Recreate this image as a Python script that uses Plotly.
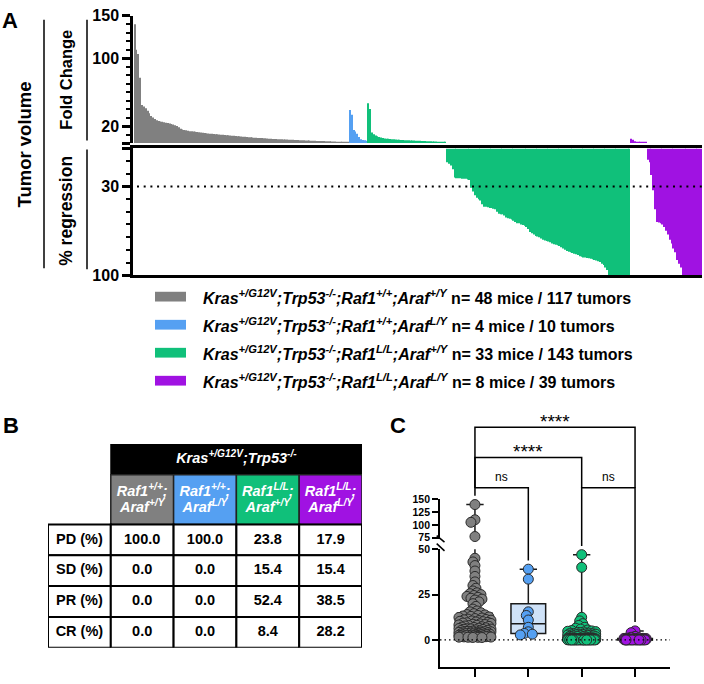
import numpy as np
import plotly.graph_objects as go

W, H = 704, 684
FONT = "Liberation Sans"

# ------------------------------------------------------------------ DATA
gray_fold = [140, 110, 105, 77, 45, 43, 41, 38, 35, 32,
             30, 28.5, 27, 26, 25.5, 25, 24.5, 24, 23.5, 23,
             22.5, 22, 21, 20, 18.5, 17, 16, 15.5, 15, 14.5,
             14, 13.8, 13.5, 13.2, 13, 12.7, 12.4, 12.1, 11.8, 11.5,
             11.3, 11.1, 10.9, 10.7, 10.5, 10.3, 10.1, 9.9, 9.7, 9.5,
             9.3, 9.1, 8.9, 8.7, 8.5, 8.3, 8.1, 7.9, 7.7, 7.5,
             7.3, 7.1, 6.9, 6.7, 6.5, 6.3, 6.2, 6.1, 6.0, 5.9,
             5.8, 5.6, 5.4, 5.2, 5.0, 4.9, 4.8, 4.7, 4.6, 4.5,
             4.4, 4.3, 4.2, 4.1, 4.0, 3.9, 3.8, 3.7, 3.6, 3.5,
             3.4, 3.3, 3.2, 3.1, 3.0, 2.9, 2.8, 2.7, 2.6, 2.5,
             2.45, 2.4, 2.35, 2.3, 2.2, 2.1, 2.0, 1.9, 1.8, 1.7,
             1.65, 1.6, 1.55, 1.5, 1.45, 1.4, 1.35]
blue_fold = [39, 33.5, 15.5, 13.5, 11, 7, 4.5, 3.6, 3.2, 2.8]
green_fold = [47, 40, 12.5, 10.5, 9, 8, 7, 6.5, 6, 5.5,
              5.2, 5.0, 4.8, 4.6, 4.4, 4.2, 4.0, 3.8, 3.6, 3.5,
              3.4, 3.3, 3.2, 3.1, 3.0, 2.9, 2.8, 2.7, 2.6, 2.5,
              2.4, 2.3, 2.2, 2.1, 2.0, 1.9, 1.8, 1.7, 1.6, 1.5,
              1.3, 1.1, 0.9]
green_regr = [11, 12, 13.5, 16.5, 23, 23.5, 23.5, 23.5, 24, 24, 24, 24.5, 25,
              31, 34, 37, 39, 40, 41, 44, 46, 46, 46.5,
              47, 47, 47.5, 48, 50, 51.5, 52, 52, 53, 54.5,
              55, 55.5, 56, 57, 58, 59, 59, 60, 60.5, 61,
              62, 63.5, 66, 67, 68, 69, 69.5, 70, 71, 72,
              72.6, 73, 73.5, 74, 75, 75.5, 76, 76.4, 77, 78,
              79, 80, 81, 81.5, 82, 82.5, 83, 83.5, 84, 85,
              85.5, 86, 86, 86.5, 86.7, 87, 87.5, 88, 88.5, 89,
              89.5, 91, 92, 94, 96,
              100, 100, 100, 100, 100, 100, 100, 100, 100, 100, 100, 100]
purple_fold = [5, 4, 2, 1.5, 1.2, 1.0, 0.8, 0.6, 0.4]
purple_regr = [9, 11, 21,
               33, 48, 58, 58.5, 59, 60, 62, 65, 68, 72, 75, 79, 82, 88, 91, 94,
               100, 100, 100, 100, 100, 100, 100, 100, 100, 100, 100]

raf1_geno = ["+/+", "+/+", "L/L", "L/L"]
araf_geno = ["+/Y", "L/Y", "+/Y", "L/Y"]
n_text = ["n= 48 mice / 117 tumors", "n= 4 mice / 10 tumors",
          "n= 33 mice / 143 tumors", "n= 8 mice / 39 tumors"]

table_rows = ["PD (%)", "SD (%)", "PR (%)", "CR (%)"]
table_vals = [[100.0, 100.0, 23.8, 17.9],
              [0.0, 0.0, 15.4, 15.4],
              [0.0, 0.0, 52.4, 38.5],
              [0.0, 0.0, 8.4, 28.2]]

comparisons = [(0, 3, "****"), (0, 2, "****"), (0, 1, "ns"), (2, 3, "ns")]

# ------------------------------------------------------------------ STYLE
colors = ["#808080", "#55a0f2", "#10c07a", "#a012e2"]
box_fill = ["#d6d6d6", "#cfe2f8", "#c8f0dc", "#ead0f8"]


def X(p):
    return p / W


def Y(p):
    return 1 - p / H


fig = go.Figure()

# ------------------------------------------------------------------ PANEL A
A_L, A_R = 133, 702
TOP_T, TOP_B = 8, 138.5
BOT_T, BOT_B = 144, 274
A_XRANGE = [-0.9, 308.5]

fold_sets = [gray_fold, blue_fold, green_fold, purple_fold]
regr_sets = [[], [], green_regr, purple_regr]
pos = 0
for g in range(4):
    f, r = fold_sets[g], regr_sets[g]
    xf = list(range(pos, pos + len(f)))
    pos += len(f)
    xr = list(range(pos, pos + len(r)))
    pos += len(r)
    fig.add_trace(go.Bar(x=xf, y=f, marker=dict(color=colors[g], line=dict(width=0)),
                         xaxis="x", yaxis="y", hoverinfo="skip"))
    if r:
        fig.add_trace(go.Bar(x=xr, y=r, marker=dict(color=colors[g], line=dict(width=0)),
                             xaxis="x2", yaxis="y2", hoverinfo="skip"))

# ------------------------------------------------------------------ PANEL B (table)
ROW_EDGES = [0, 1.0, 2.62, 3.62, 4.62, 5.62, 6.62]
tx, ty, tt, tc = [], [], [], []
tx.append(3.0); ty.append(0.5)
tt.append("<b><i>Kras</i><sup><i>+/G12V</i></sup><i>;Trp53</i><sup><i>-/-</i></sup></b>")
tc.append("white")
for c in range(4):
    tx += [c + 1.5, c + 1.5]
    ty += [1.58, 2.09]
    tt += [f"<b><i>Raf1</i><sup><i>{raf1_geno[c]}</i></sup><i>;</i></b>",
           f"<b><i>Araf</i><sup><i>{araf_geno[c]}</i></sup></b>"]
    tc += ["white", "white"]
for r in range(4):
    yc = (ROW_EDGES[r + 2] + ROW_EDGES[r + 3]) / 2
    tx.append(0.5); ty.append(yc); tt.append(f"<b>{table_rows[r]}</b>"); tc.append("black")
    for c in range(4):
        tx.append(c + 1.5); ty.append(yc)
        tt.append(f"<b>{table_vals[r][c]:.1f}</b>"); tc.append("black")
fig.add_trace(go.Scatter(x=tx, y=ty, text=tt, mode="text", textposition="middle center",
                         textfont=dict(family=FONT, size=14.5, color=tc),
                         xaxis="x3", yaxis="y3", hoverinfo="skip", cliponaxis=False))

shapes = []
shapes.append(dict(type="rect", xref="x3", yref="y3", x0=1, x1=5, y0=0, y1=1,
                   fillcolor="black", line=dict(color="black", width=1), layer="below"))
for c in range(4):
    shapes.append(dict(type="rect", xref="x3", yref="y3", x0=c + 1, x1=c + 2,
                       y0=ROW_EDGES[1], y1=ROW_EDGES[2], fillcolor=colors[c],
                       line=dict(color="#222", width=1.5), layer="below"))
for r in range(4):
    for c in range(5):
        shapes.append(dict(type="rect", xref="x3", yref="y3", x0=c, x1=c + 1,
                           y0=ROW_EDGES[r + 2], y1=ROW_EDGES[r + 3], fillcolor="white",
                           line=dict(color="black", width=2), layer="below"))

# ------------------------------------------------------------------ PANEL C
C_L, C_R = 440, 670
C_XRANGE = [-0.655, 3.655]
B4_T, B4_B = 555, 676
Y4_RANGE = [-15, 50]
T5_T, T5_B = 504, 544.6
Y5_RANGE = [72, 150]
bot_scale = (B4_B - B4_T) / (Y4_RANGE[1] - Y4_RANGE[0])
top_scale = (T5_B - T5_T) / (Y5_RANGE[1] - Y5_RANGE[0])
x_scale = (C_R - C_L) / (C_XRANGE[1] - C_XRANGE[0])


def c_ypix(v):
    if v <= Y4_RANGE[1]:
        return B4_B - (v - Y4_RANGE[0]) * bot_scale
    return T5_B - (v - Y5_RANGE[0]) * top_scale


def swarm(vals, maxw, d=10.0, accept=0.4):
    vals = np.asarray(vals, float)
    ypx = np.array([c_ypix(v) for v in vals])
    order = np.argsort(-vals, kind="stable")
    cands = np.arange(-maxw, maxw + 0.5, 1.0)
    cands = cands[np.argsort(np.abs(cands), kind="stable")]
    px_l, py_l = [], []
    off = np.zeros(len(vals))
    for i in order:
        best = 0.0
        if px_l:
            pxa, pya = np.array(px_l), np.array(py_l)
            near = np.abs(pya - ypx[i]) < d
            if near.any():
                dist = np.sqrt((cands[:, None] - pxa[near][None, :]) ** 2 +
                               (ypx[i] - pya[near][None, :]) ** 2).min(axis=1)
                ok = np.where(dist >= d * accept)[0]
                best = cands[ok[0]] if len(ok) else cands[np.argmax(dist)]
        off[i] = best
        px_l.append(best)
        py_l.append(ypx[i])
    return off


c_vals = []
for g in range(4):
    v = list(fold_sets[g]) + [round(1 - r / 100.0, 3) for r in regr_sets[g]]
    c_vals.append(np.array(v, float))

spread = [16, 16, 14, 11]
for g in range(4):
    v = c_vals[g]
    q1, med, q3 = np.percentile(v, [25, 50, 75], method="weibull")
    for ya in ["y4", "y5"]:
        fig.add_trace(go.Box(x=[g], q1=[q1], median=[med], q3=[q3],
                             lowerfence=[v.min()], upperfence=[v.max()],
                             orientation="v", width=0.65, whiskerwidth=0.5,
                             fillcolor=box_fill[g], line=dict(color="#1a1a1a", width=1.5),
                             boxpoints=False, xaxis="x4", yaxis=ya, hoverinfo="skip"))
for g in range(4):
    v = c_vals[g]
    off = swarm(v, spread[g])
    xs = g + off / x_scale
    lo = v <= Y4_RANGE[1]
    mk = dict(size=10, color=colors[g], line=dict(color="#2a2a2a", width=1))
    fig.add_trace(go.Scatter(x=xs[lo], y=v[lo], mode="markers", marker=mk, cliponaxis=False,
                             xaxis="x4", yaxis="y4", hoverinfo="skip"))
    if (~lo).any():
        fig.add_trace(go.Scatter(x=xs[~lo], y=v[~lo], mode="markers", marker=mk, cliponaxis=False,
                                 xaxis="x4", yaxis="y5", hoverinfo="skip"))

# brackets
bracket_y = [430, 461, 492, 492]
leg_end = [c_ypix(c_vals[g].max()) - 9 for g in range(4)]
annots = []
for k, (a, b, lab) in enumerate(comparisons):
    yb = bracket_y[k]
    if lab == "ns":
        ya, yb2 = leg_end[a], leg_end[b]
    else:
        ya, yb2 = 492, 492
    shapes.append(dict(type="path", xref="x4", yref="paper",
                       path=f"M {a},{Y(ya)} L {a},{Y(yb)} L {b},{Y(yb)} L {b},{Y(yb2)}",
                       line=dict(color="black", width=1.5)))
    annots.append(dict(x=(a + b) / 2, y=Y(yb - (6 if lab != "ns" else 11)), xref="x4", yref="paper",
                       text=lab, showarrow=False, xanchor="center", yanchor="middle",
                       font=dict(family=FONT, size=19 if lab != "ns" else 12, color="black")))

# zero dotted line (panel C) and 30% line (panel A)
shapes.append(dict(type="line", xref="x4 domain", yref="y4", x0=0, x1=1, y0=0, y1=0,
                   line=dict(color="black", width=1.2, dash="1.5px,3px")))
shapes.append(dict(type="line", xref="x2 domain", yref="y2", x0=0.007, x1=1, y0=30, y1=30,
                   line=dict(color="black", width=2, dash="2px,4.7px")))
# axis-break marks
for yy in [(541, 547.7), (549.3, 556.7)]:
    shapes.append(dict(type="line", xref="paper", yref="paper", x0=X(436.7), x1=X(444.5),
                       y0=Y(yy[0]), y1=Y(yy[1]), line=dict(color="black", width=1.5)))

# panel A left bracket lines
for (x, y0, y1) in [(44, 12, 267), (87, 12, 136), (87, 145, 268)]:
    shapes.append(dict(type="line", xref="paper", yref="paper", x0=X(x), x1=X(x),
                       y0=Y(y0), y1=Y(y1), line=dict(color="black", width=1.5)))

# legend
rows_y = [296, 324.8, 353.5, 382.2]
for g in range(4):
    shapes.append(dict(type="rect", xref="paper", yref="paper", x0=X(155), x1=X(186),
                       y0=Y(rows_y[g] + 5), y1=Y(rows_y[g] - 5), fillcolor=colors[g],
                       line=dict(width=0)))
    txt = ("<b><i>Kras</i><sup><i>+/G12V</i></sup><i>;Trp53</i><sup><i>-/-</i></sup>"
           f"<i>;Raf1</i><sup><i>{raf1_geno[g]}</i></sup><i>;Araf</i><sup><i>{araf_geno[g]}</i></sup>"
           f" {n_text[g]}</b>")
    annots.append(dict(x=X(201), y=Y(rows_y[g]), xref="paper", yref="paper", text=txt,
                       showarrow=False, xanchor="left", yanchor="middle",
                       font=dict(family=FONT, size=16, color="black")))

# titles / panel letters
for (txt, x, y, s) in [("Tumor volume", 25, 140, 18.5), ("Fold Change", 66.5, 74, 16.5),
                       ("% regression", 66, 208, 17.5)]:
    annots.append(dict(x=X(x), y=Y(y), xref="paper", yref="paper", text=f"<b>{txt}</b>",
                       textangle=-90, showarrow=False, xanchor="center", yanchor="middle",
                       font=dict(family=FONT, size=s, color="black")))
for (txt, x, y) in [("A", 10, 12.5), ("B", 10.5, 428), ("C", 398, 428)]:
    annots.append(dict(x=X(x), y=Y(y), xref="paper", yref="paper", text=f"<b>{txt}</b>",
                       showarrow=False, xanchor="center", yanchor="middle",
                       font=dict(family=FONT, size=22, color="black")))

tickfontA = dict(family=FONT, size=16, color="black", weight="bold")
tickfontC = dict(family=FONT, size=10.5, color="black", weight="bold")
minorA = dict(dtick=10, tick0=0, ticks="outside", ticklen=4, tickwidth=1.5, tickcolor="black")

fig.update_layout(
    width=W, height=H, margin=dict(l=0, r=0, t=0, b=0),
    paper_bgcolor="white", plot_bgcolor="white", showlegend=False,
    barmode="overlay", bargap=0.45,
    xaxis=dict(domain=[X(A_L), X(A_R)], range=A_XRANGE, visible=False, anchor="y"),
    yaxis=dict(domain=[Y(TOP_B), Y(TOP_T)], range=[0, 150], anchor="x", showline=True,
               linecolor="black", linewidth=2.5, ticks="outside", ticklen=8, tickwidth=2.5,
               tickcolor="black", tickmode="array", tickvals=[0, 20, 100, 150],
               ticktext=["", "20", "100", "150"], tickfont=tickfontA, minor=minorA,
               showgrid=False, zeroline=False),
    xaxis2=dict(domain=[X(A_L), X(A_R)], range=A_XRANGE, anchor="y2", showline=True,
                mirror=True, linecolor="black", linewidth=2.5, ticks="", showticklabels=False,
                showgrid=False, zeroline=False),
    yaxis2=dict(domain=[Y(BOT_B), Y(BOT_T)], range=[100, 0], anchor="x2", showline=True,
                linecolor="black", linewidth=2.5, ticks="outside", ticklen=8, tickwidth=2.5,
                tickcolor="black", tickmode="array", tickvals=[0, 30, 100],
                ticktext=["", "30", "100"], tickfont=tickfontA, minor=minorA,
                showgrid=False, zeroline=False),
    xaxis3=dict(domain=[X(48), X(362)], range=[0, 5], visible=False, anchor="y3"),
    yaxis3=dict(domain=[Y(656), Y(447)], range=[ROW_EDGES[-1], 0], visible=False, anchor="x3"),
    xaxis4=dict(domain=[X(C_L), X(C_R)], range=C_XRANGE, anchor="y4", showline=True,
                linecolor="black", linewidth=1.8, ticks="outside", ticklen=8, tickwidth=1.5,
                tickcolor="black", tickmode="array", tickvals=[0, 1, 2, 3],
                showticklabels=False, showgrid=False, zeroline=False),
    yaxis4=dict(domain=[Y(B4_B), Y(B4_T)], range=Y4_RANGE, anchor="x4", showline=True,
                linecolor="black", linewidth=1.8, ticks="outside", ticklen=6, tickwidth=1.5,
                tickcolor="black", tickmode="array", tickvals=[0, 25, 50],
                tickfont=tickfontC, showgrid=False, zeroline=False),
    yaxis5=dict(domain=[Y(T5_B), Y(T5_T)], range=Y5_RANGE, anchor="x4", showline=True,
                linecolor="black", linewidth=1.8, ticks="outside", ticklen=6, tickwidth=1.5,
                tickcolor="black", tickmode="array", tickvals=[75, 100, 125, 150],
                tickfont=tickfontC, showgrid=False, zeroline=False),
    shapes=shapes, annotations=annots,
)

fig.write_html("out.html")
